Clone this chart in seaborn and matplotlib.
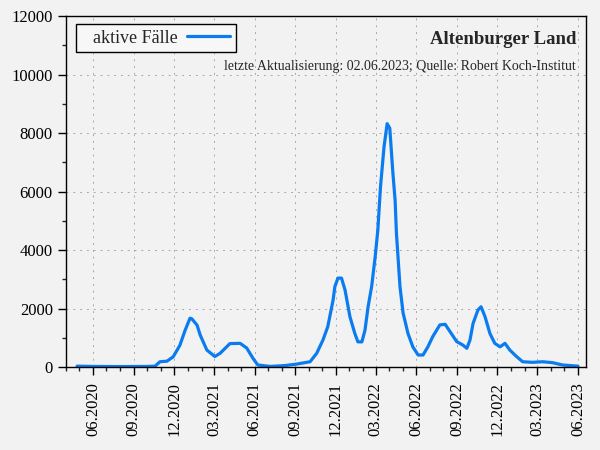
import numpy as np
import pandas as pd
import matplotlib
matplotlib.use("Agg")
import matplotlib.pyplot as plt
import matplotlib.dates as mdates
import seaborn as sns

# active cases
dates = ["2020-04-26", "2020-06-01", "2020-08-01", "2020-10-01", "2020-10-19",
         "2020-10-30", "2020-11-15", "2020-11-29", "2020-12-14", "2020-12-26",
         "2021-01-06", "2021-01-10", "2021-01-22", "2021-01-29", "2021-02-13",
         "2021-03-03", "2021-03-15", "2021-04-06", "2021-04-29", "2021-05-14",
         "2021-05-28", "2021-06-08", "2021-07-06", "2021-08-08", "2021-09-04",
         "2021-09-11", "2021-10-04", "2021-10-19", "2021-11-02", "2021-11-13",
         "2021-11-25", "2021-11-29", "2021-12-06", "2021-12-14", "2021-12-22",
         "2022-01-02", "2022-01-13", "2022-01-20", "2022-01-29", "2022-02-05",
         "2022-02-12", "2022-02-20", "2022-02-28", "2022-03-06", "2022-03-12",
         "2022-03-20", "2022-03-24", "2022-03-27", "2022-04-02", "2022-04-09",
         "2022-04-14", "2022-04-17", "2022-04-25", "2022-05-02", "2022-05-13",
         "2022-05-24", "2022-06-05", "2022-06-16", "2022-06-27", "2022-07-08",
         "2022-07-24", "2022-08-05", "2022-08-16", "2022-08-31", "2022-09-14",
         "2022-09-23", "2022-09-30", "2022-10-07", "2022-10-18", "2022-10-25",
         "2022-11-03", "2022-11-14", "2022-11-25", "2022-12-07", "2022-12-18",
         "2022-12-29", "2023-01-13", "2023-01-27", "2023-02-18", "2023-03-13",
         "2023-04-04", "2023-04-27", "2023-06-01"]
active = [30, 20, 15, 20, 30,
          180, 200, 350, 740, 1260,
          1670, 1650, 1430, 1090, 580,
          360, 470, 800, 810, 650,
          300, 70, 20, 50, 100,
          120, 180, 470, 920, 1380,
          2290, 2750, 3040, 3040, 2630,
          1720, 1150, 860, 860, 1260,
          2060, 2750, 3770, 4680, 6160,
          7530, 7980, 8320, 8160, 6630,
          5700, 4570, 2750, 1850, 1150,
          690, 410, 410, 690, 1040,
          1440, 1460, 1210, 870, 750,
          640, 920, 1490, 1950, 2060,
          1720, 1150, 810, 690, 810,
          580, 360, 180, 160, 180,
          150, 70, 30]

df = pd.DataFrame({"Datum": pd.to_datetime(dates), "aktiv": active})

sns.set_style("ticks")
plt.rcParams["font.family"] = ["Liberation Serif", "DejaVu Serif"]

bg = "#f2f2f2"
fig = plt.figure(figsize=(6, 4.5), dpi=100, facecolor=bg)
ax = fig.add_axes([0.11, 0.1844, 0.8667, 0.78])
ax.set_facecolor(bg)

sns.lineplot(data=df, x="Datum", y="aktiv", color="#0a7cf0", linewidth=2.3,
             label="aktive Fälle", ax=ax)

ax.set_xlim(pd.Timestamp("2020-04-01"), pd.Timestamp("2023-06-19"))
ax.set_ylim(0, 12000)
ax.set_yticks(np.arange(0, 12001, 2000))
ax.set_yticks(np.arange(1000, 12000, 2000), minor=True)
ax.xaxis.set_major_locator(mdates.MonthLocator(bymonth=[3, 6, 9, 12]))
ax.xaxis.set_minor_locator(mdates.MonthLocator())
ax.xaxis.set_major_formatter(mdates.DateFormatter("%m.%Y"))
ax.set_xlabel("")
ax.set_ylabel("")

ax.tick_params(axis="both", which="major", length=6, width=1, labelsize=12,
               direction="out", colors="black")
ax.tick_params(axis="both", which="minor", length=3, width=1, direction="out")
ax.tick_params(axis="x", which="major", labelrotation=90, pad=5)

for s in ax.spines.values():
    s.set_visible(True)
    s.set_linewidth(1.0)
    s.set_color("black")

ax.grid(True, which="major", color="#a8a8a8", linewidth=0.7, linestyle=(0, (2, 5)))

leg = ax.legend(loc="upper left", bbox_to_anchor=(0.019, 0.977), fontsize=13,
                markerfirst=False, fancybox=False, framealpha=1,
                handlelength=2.4, borderpad=0.3, handletextpad=1.15,
                borderaxespad=0)
leg.get_frame().set_edgecolor("black")
leg.get_frame().set_facecolor("#f7f7f7")
leg.get_frame().set_linewidth(1.0)
# gnuplot-style key: push the label to the right inside the box
for t in leg.get_texts():
    t.set_x(12)

ax.text(0.981, 0.932, "Altenburger Land", transform=ax.transAxes, ha="right",
        va="center", fontsize=13.5, fontweight="bold")
ax.text(0.981, 0.855, "letzte Aktualisierung: 02.06.2023; Quelle: Robert Koch-Institut",
        transform=ax.transAxes, ha="right", va="center", fontsize=10)

fig.savefig("out.png", dpi=100, facecolor=bg)
